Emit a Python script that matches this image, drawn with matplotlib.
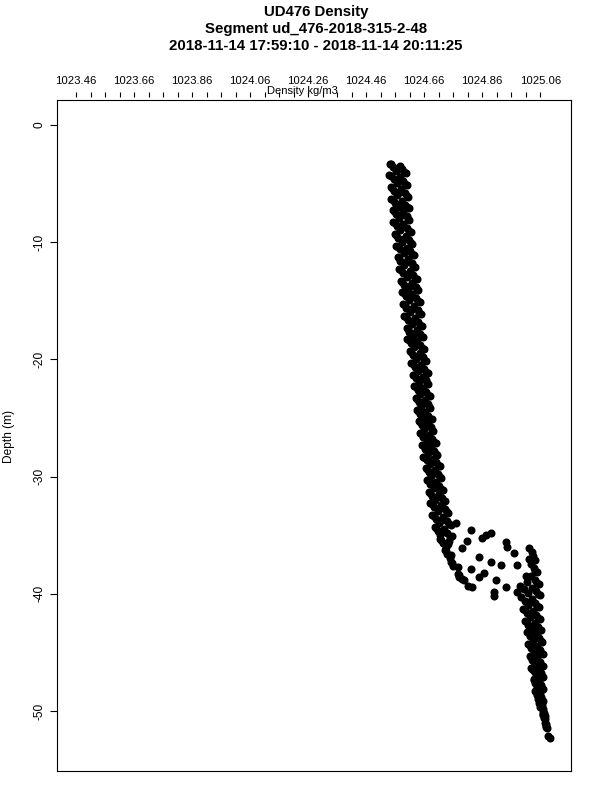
import numpy as np
import matplotlib
matplotlib.use('Agg')
import matplotlib.pyplot as plt

plt.rcParams['font.family'] = ['Liberation Sans', 'DejaVu Sans']

nan = np.nan

# depth of each sample row (m), one row per metre
depth_grid = [-3.3, -4.3, -5.3, -6.3, -7.3, -8.3, -9.3, -10.3, -11.3, -12.3,
              -13.3, -14.3, -15.3, -16.3, -17.3, -18.3, -19.3, -20.3, -21.3, -22.3,
              -23.3, -24.3, -25.3, -26.3, -27.3, -28.3, -29.3, -30.3, -31.3, -32.3,
              -33.3, -34.3, -35.3, -36.3, -37.3, -38.3, -39.3, -40.3, -41.3, -42.3,
              -43.3, -44.3, -45.3, -46.3, -47.3, -48.3, -49.3, -50.3, -51.3, -52.3]

# depth offset of each cast against the grid
cast_shift = [0.0, -0.17, -0.33, -0.5, -0.67, -0.83, -0.08, -0.42, -0.75]

# density (kg/m3) of each cast
cast0 = [1024.542, 1024.540, 1024.545, 1024.547, 1024.552, 1024.551, 1024.559, 1024.562, 1024.568, 1024.573,
         1024.580, 1024.582, 1024.588, 1024.590, 1024.599, 1024.602, 1024.611, 1024.614, 1024.621, 1024.624,
         1024.631, 1024.634, 1024.642, 1024.645, 1024.654, 1024.657, 1024.666, 1024.671, 1024.676, 1024.679,
         1024.688, 1024.696, 1024.714, 1024.731, 1024.752, 1024.776, 1024.990, 1024.994, 1025.002, 1025.007,
         1025.016, 1025.018, 1025.023, 1025.028, 1025.037, 1025.042, 1025.057, 1025.071, 1025.080, 1025.094]
cast1 = [1024.575, 1024.577, 1024.579, 1024.584, 1024.588, 1024.587, 1024.596, 1024.602, 1024.603, 1024.610,
         1024.618, 1024.619, 1024.626, 1024.627, 1024.635, 1024.635, 1024.645, 1024.648, 1024.655, 1024.656,
         1024.663, 1024.664, 1024.673, 1024.677, 1024.685, 1024.690, 1024.698, 1024.702, 1024.711, 1024.719,
         1024.725, 1024.727, 1024.746, 1025.030, 1025.028, 1025.028, 1025.030, 1025.031, 1025.036, 1025.041,
         1025.046, 1025.048, 1025.050, 1025.053, 1025.056, 1025.059, 1025.066, 1025.076, 1025.084, nan]
cast2 = [1024.551, 1024.555, 1024.556, 1024.558, 1024.563, 1024.566, 1024.569, 1024.576, 1024.578, 1024.587,
         1024.590, 1024.596, 1024.598, 1024.604, 1024.609, 1024.615, 1024.620, 1024.627, 1024.630, 1024.637,
         1024.641, 1024.644, 1024.652, 1024.656, 1024.664, 1024.668, 1024.677, 1024.681, 1024.688, 1024.692,
         1024.701, 1024.706, 1024.724, 1024.740, 1024.760, nan, 1025.003, 1025.006, 1025.013, 1025.019,
         1025.025, 1025.029, 1025.031, 1025.037, 1025.043, 1025.048, 1025.059, 1025.072, nan, nan]
cast3 = [1024.585, 1024.588, 1024.594, 1024.593, 1024.599, 1024.601, 1024.609, 1024.612, 1024.618, 1024.622,
         1024.630, 1024.632, 1024.638, 1024.640, 1024.645, 1024.646, 1024.656, 1024.660, 1024.665, 1024.666,
         1024.673, 1024.674, 1024.683, 1024.687, 1024.695, 1024.701, 1024.708, 1024.712, 1024.722, 1024.730,
         1024.740, 1024.737, nan, 1025.035, 1025.038, 1025.041, 1025.044, 1025.043, 1025.047, 1025.052,
         1025.056, 1025.058, 1025.060, 1025.061, 1025.062, 1025.064, 1025.070, nan, nan, nan]
cast4 = [1024.563, 1024.566, 1024.567, 1024.572, 1024.573, 1024.578, 1024.582, 1024.589, 1024.591, 1024.599,
         1024.603, 1024.609, 1024.611, 1024.617, 1024.620, 1024.626, 1024.631, 1024.639, 1024.641, 1024.647,
         1024.650, 1024.656, 1024.660, 1024.668, 1024.672, 1024.681, 1024.685, 1024.693, 1024.697, 1024.707,
         1024.712, 1024.716, 1024.735, 1024.749, nan, 1025.015, 1025.017, 1025.018, 1025.024, 1025.030,
         1025.035, 1025.039, 1025.041, 1025.045, 1025.049, 1025.053, nan, nan, nan, nan]
cast5 = [1024.596, 1024.600, 1024.605, 1024.607, 1024.609, 1024.615, 1024.619, 1024.626, 1024.628, 1024.636,
         1024.640, 1024.646, 1024.648, 1024.654, 1024.655, 1024.660, 1024.665, 1024.673, 1024.674, 1024.679,
         1024.681, 1024.686, 1024.691, 1024.700, 1024.703, 1024.714, 1024.717, 1024.724, 1024.732, 1024.743,
         1024.751, 1024.748, 1025.020, 1025.041, 1025.048, 1025.054, 1025.058, 1025.056, 1025.059, 1025.063,
         1025.066, 1025.068, 1025.069, 1025.069, 1025.069, 1025.069, 1025.073, 1025.080, 1025.087, nan]
cast6 = [1024.546, 1024.547, 1024.550, 1024.554, 1024.556, 1024.558, 1024.564, 1024.569, 1024.573, 1024.580,
         1024.585, 1024.589, 1024.593, 1024.597, 1024.604, 1024.609, 1024.616, 1024.621, 1024.626, 1024.630,
         1024.635, 1024.640, 1024.646, 1024.651, 1024.658, 1024.664, 1024.670, 1024.677, 1024.681, 1024.686,
         1024.694, 1024.700, 1024.718, 1024.736, 1024.756, 1024.780, 1024.812, nan, 1025.007, 1025.014,
         1025.020, 1025.024, 1025.027, 1025.033, 1025.039, 1025.046, 1025.058, 1025.071, 1025.081, nan]
cast7 = [1024.568, 1024.571, 1024.575, 1024.577, 1024.580, 1024.583, 1024.589, 1024.594, 1024.598, 1024.605,
         1024.610, 1024.614, 1024.618, 1024.622, 1024.627, 1024.631, 1024.638, 1024.644, 1024.648, 1024.652,
         1024.656, 1024.660, 1024.667, 1024.673, 1024.679, 1024.686, 1024.692, 1024.698, 1024.704, 1024.712,
         1024.720, 1024.722, 1024.741, 1024.754, 1024.776, 1024.790, nan, 1025.025, 1025.030, 1025.036,
         1025.041, 1025.044, 1025.046, 1025.049, 1025.053, 1025.056, 1025.065, 1025.075, nan, nan]
cast8 = [1024.589, 1024.595, 1024.599, 1024.600, 1024.604, 1024.608, 1024.614, 1024.619, 1024.623, 1024.629,
         1024.635, 1024.639, 1024.643, 1024.647, 1024.650, 1024.653, 1024.660, 1024.666, 1024.670, 1024.673,
         1024.677, 1024.680, 1024.687, 1024.694, 1024.699, 1024.708, 1024.713, 1024.718, 1024.727, 1024.738,
         1024.746, 1024.757, nan, 1025.022, 1025.043, 1025.048, 1025.051, 1025.050, 1025.053, 1025.058,
         1025.061, 1025.063, 1025.064, 1025.065, 1025.066, 1025.066, 1025.071, 1025.078, nan, nan]
casts = [cast0, cast1, cast2, cast3, cast4, cast5, cast6, cast7, cast8]

# loose samples in the pycnocline
mix_density = [1024.769, 1024.821, 1024.858, 1024.872, 1024.889, 1024.807, 1024.941, 1024.944, 1024.790, 1024.968,
               1024.848, 1024.889, 1024.924, 1024.979, 1024.821, 1024.848, 1024.865, 1024.780, 1024.797, 1024.824,
               1024.907, 1024.900, 1024.900, 1024.941, 1024.979, 1025.010]
mix_depth = [-33.96, -34.56, -35.24, -34.98, -34.81, -35.49, -35.58, -36.01, -36.09, -36.52,
             -36.86, -37.29, -37.54, -37.54, -37.88, -38.57, -38.23, -38.57, -38.82, -39.42,
             -38.82, -39.85, -40.19, -39.42, -39.85, -38.48]

major_ticks = [1023.46, 1023.66, 1023.86, 1024.06, 1024.26, 1024.46, 1024.66, 1024.86, 1025.06]
major_labels = ['1023.46', '1023.66', '1023.86', '1024.06', '1024.26', '1024.46', '1024.66', '1024.86', '1025.06']
depth_ticks = [0, -10, -20, -30, -40, -50]

fig = plt.figure(figsize=(6, 8), dpi=100)
ax = fig.add_axes([57/600, 1-771/800, 514/600, 671/800])

for dens, shift in zip(casts, cast_shift):
    d = np.array(depth_grid) + shift
    ax.plot(dens, d, 'o', color='black', markersize=5.8, markeredgewidth=0)
ax.plot(mix_density, mix_depth, 'o', color='black', markersize=5.8, markeredgewidth=0)

ax.set_xlim(1023.394, 1025.166)
ax.set_ylim(-55.12, 2.12)

for s in ax.spines.values():
    s.set_linewidth(0.8)

ax.tick_params(axis='x', bottom=False, labelbottom=False, top=False, labeltop=False)
ax.set_yticks(depth_ticks)
ax.set_yticklabels([str(t) for t in depth_ticks])
ax.tick_params(axis='y', direction='out', length=5, width=0.8, labelsize=8.6, pad=3)
plt.setp(ax.get_yticklabels(), rotation=90, va='center')

# top density axis, set a little off the box
sec = ax.secondary_xaxis('top')
sec.spines['top'].set_position(('outward', 2.2))
sec.spines['top'].set_visible(False)
sec.set_xticks(major_ticks)
sec.set_xticklabels(major_labels)
sec.set_xticks(np.arange(1023.46, 1025.07, 0.05), minor=True)
sec.tick_params(which='both', direction='out', length=3.4, width=0.8, labelsize=8.2, pad=4.5)

fig.text(302/600, 1-94/800, 'Density kg/m3', ha='center', va='baseline', fontsize=8)
fig.text(9/600, 1-436/800, 'Depth (m)', ha='center', va='center', rotation=90, fontsize=8.6)

fig.text(316/600, 1-16/800, 'UD476 Density', ha='center', va='baseline', fontsize=10.8, fontweight='bold')
fig.text(316/600, 1-33/800, 'Segment ud_476-2018-315-2-48', ha='center', va='baseline', fontsize=10.8, fontweight='bold')
fig.text(316/600, 1-50/800, '2018-11-14 17:59:10 - 2018-11-14 20:11:25', ha='center', va='baseline',
         fontsize=10.8, fontweight='bold')

fig.savefig('out.png', dpi=100)
